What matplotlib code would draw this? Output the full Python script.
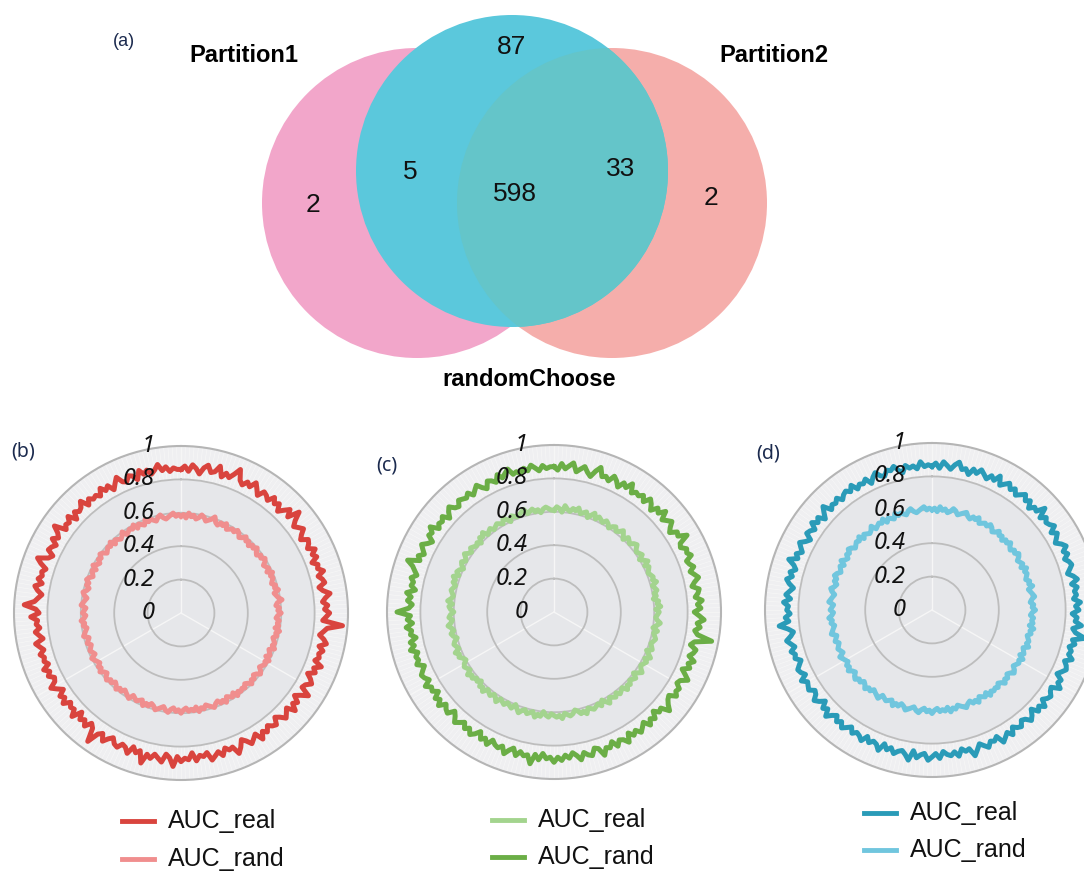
import numpy as np
import matplotlib
matplotlib.use("Agg")
import matplotlib.pyplot as plt
from matplotlib.patches import Circle
from matplotlib.lines import Line2D

# venn counts
venn_counts = {"p1_only": 2, "p1_rc": 5, "rc_only": 87, "all": 598, "rc_p2": 33, "p2_only": 2}
venn_names = ["Partition1", "Partition2", "randomChoose"]

# AUC per sample, in hundredths, going clockwise from the top
b_real = """
86 88 85 89 87 84 88 90 86 87 91 85 88 86 89 93 87 85 88 86 90 87 84 88
87 85 89 86 88 84 87 90 86 93 88 85 87 89 86 84 88 87 85 89 86 88 84 87
86 89 85 87 88 84 86 90 87 85 88 86 89 87 85 97 88 86 84 87 89 85 88 86
87 85 90 86 88 84 87 89 86 85 91 87 84 88 86 90 85 87 89 86 84 88 87 85
88 86 90 85 87 89 86 84 88 91 86 87 85 89 86 88 90 85 87 86 89 84 88 87
89 86 92 87 85 90 88 86 89 87 93 86 88 85 90 87 86 89 88 85 87 90 86 88
95 87 85 89 86 88 84 90 86 87 85 89 86 88 84 87 90 86 85 88 86 89 85 87
86 88 85 87 89 84 86 88 85 87 86 90 85 87 94 88 86 84 87 89 85 88 86 87
85 89 92 86 84 88 87 85 89 86 88 92 85 87 86 89 84 88 86 87 90 85 88 86
87 85 89 86 88 84 87 90 86 85 88 87 84 89 86 88 85 87 90 86 88 85 87 86
"""
b_rand = """
58 59 57 60 58 59 57 58 60 59 57 58 59 61 58 57 59 58 60 57 58 59 58 60
59 57 58 60 58 59 57 59 58 60 58 57 59 58 60 59 57 58 59 57 60 58 59 58
57 59 58 60 57 58 59 61 58 57 59 58 60 58 57 59 58 59 57 60 58 59 57 58
59 58 60 57 58 59 57 60 58 59 58 57 59 60 58 57 59 58 60 58 57 59 58 59
58 60 57 59 58 57 60 58 59 57 58 60 59 58 57 59 58 60 57 59 58 59 57 58
60 58 59 57 58 60 59 57 58 59 60 58 57 59 58 60 57 58 59 58 57 60 59 58
57 59 58 60 58 57 59 58 60 59 57 58 60 58 59 57 58 59 60 57 58 59 58 57
59 58 57 60 59 58 57 59 58 60 58 57 59 58 57 60 59 58 57 59 60 58 57 59
58 60 59 57 58 59 57 60 58 57 59 58 60 59 57 58 59 58 60 57 59 58 57 58
60 57 58 59 58 60 57 59 58 57 60 58 59 58 57 59 60 58 57 58 59 60 58 59
"""
c_real = """
61 63 62 60 64 62 61 63 62 64 61 62 63 60 62 64 61 63 62 61 63 62 60 62
63 61 62 64 62 60 63 62 61 63 64 62 61 62 63 60 62 64 61 63 62 61 62 63
62 64 61 62 63 61 62 60 63 62 64 61 63 62 61 62 64 62 60 63 61 62 63 62
61 62 63 60 62 64 61 63 62 61 62 64 62 60 63 62 61 63 62 64 61 62 63 61
63 62 61 64 62 60 63 61 62 63 62 61 64 62 63 61 60 62 63 62 61 64 62 63
62 61 63 62 60 63 62 64 61 62 63 61 62 64 62 60 63 62 61 63 62 61 64 62
61 63 62 61 64 62 63 60 62 61 63 62 64 61 62 63 62 60 61 63 62 64 61 62
63 62 60 62 63 61 62 64 62 61 63 62 60 62 63 61 64 62 61 62 63 62 61 63
62 64 61 63 62 60 62 63 61 62 64 62 61 63 62 61 62 60 63 62 64 61 62 63
61 62 63 62 61 64 62 60 63 62 61 62 63 64 61 62 63 61 62 60 62 63 62 61
"""
c_rand = """
87 85 89 86 88 90 85 87 89 86 84 88 91 86 87 85 89 87 84 88 86 90 85 87
86 88 85 89 87 84 88 86 90 85 87 89 86 84 88 87 92 86 85 88 87 89 85 86
88 85 87 89 86 84 88 87 85 89 86 88 84 87 90 86 88 85 87 96 86 84 88 87
85 89 86 88 84 87 90 86 85 88 87 89 85 86 88 91 86 87 84 88 86 89 85 87
89 86 88 85 90 87 86 89 85 88 87 91 86 85 89 88 86 90 87 85 88 86 89 87
90 87 88 85 89 86 92 87 88 86 89 85 87 90 86 88 87 85 89 86 88 84 87 89
86 88 85 87 89 86 84 88 87 85 89 86 88 84 87 86 89 85 87 88 86 84 88 86
87 85 89 86 88 84 87 86 89 85 88 86 94 87 85 88 86 89 84 87 86 88 85 87
89 93 86 88 85 87 89 86 84 88 87 90 85 87 86 88 84 87 89 86 85 88 87 86
88 85 87 89 86 84 88 87 85 89 86 88 90 86 87 85 88 86 89 87 85 88 86 87
"""
d_real = """
86 88 85 89 87 85 88 90 86 87 84 88 86 89 87 85 88 86 90 85 87 89 86 88
85 87 89 86 88 84 87 86 91 85 88 86 87 89 85 88 86 84 87 89 86 88 85 87
88 86 84 87 89 85 88 86 87 85 89 86 88 84 87 86 90 85 87 93 86 88 85 87
86 89 85 87 88 86 84 88 87 90 85 86 88 87 85 89 86 88 84 87 89 86 85 88
87 85 89 86 88 90 85 87 86 89 87 85 88 91 86 87 85 89 86 88 87 85 89 86
88 90 86 87 89 85 91 88 86 87 89 86 88 85 90 87 86 88 85 89 87 86 88 85
87 89 86 88 85 87 90 86 88 84 87 89 86 85 88 87 86 89 85 87 88 86 84 87
86 88 85 87 89 86 84 87 92 86 88 85 87 86 89 85 88 86 84 87 89 86 88 85
87 91 86 88 85 87 89 86 84 88 87 85 89 86 88 84 87 90 85 87 86 88 85 87
88 86 89 85 87 86 88 84 87 89 86 85 88 87 89 86 84 88 86 87 85 89 86 87
"""
d_rand = """
60 61 59 62 60 61 59 60 62 61 59 60 61 62 60 59 61 60 62 59 60 61 60 62
61 59 60 62 60 61 59 61 60 62 60 59 61 60 62 61 59 60 61 59 62 60 61 60
59 61 60 62 59 60 61 62 60 59 61 60 62 60 59 61 60 61 59 62 60 61 59 60
61 60 62 59 60 61 59 62 60 61 60 59 61 62 60 59 61 60 62 60 59 61 60 61
60 62 59 61 60 59 62 60 61 59 60 62 61 60 59 61 60 62 59 61 60 61 59 60
62 60 61 59 60 62 61 59 60 61 62 60 59 61 60 62 59 60 61 60 59 62 61 60
59 61 60 62 60 59 61 60 62 61 59 60 62 60 61 59 60 61 62 59 60 61 60 59
61 60 59 62 61 60 59 61 60 62 60 59 61 60 59 62 61 60 59 61 62 60 59 61
60 62 61 59 60 61 59 62 60 59 61 60 62 61 59 60 61 60 62 59 61 60 59 60
62 59 60 61 60 62 59 61 60 59 62 60 61 60 59 61 62 60 59 60 61 62 60 61
"""
r_ticks = [0, 0.2, 0.4, 0.6, 0.8, 1]
r_tick_labels = ["0", "0.2", "0.4", "0.6", "0.8", "1"]


def parse(s):
    return np.array(s.split(), dtype=float) / 100


W, H = 1084, 875
fig = plt.figure(figsize=(W / 100, H / 100), dpi=100)

# --- venn, drawn in pixel coordinates ---
ax = fig.add_axes([0, 0, 1, 1])
ax.set_xlim(0, W)
ax.set_ylim(H, 0)
ax.axis("off")

pink = Circle((417, 203), 155, color="#F2A6CA", lw=0)
salmon = Circle((612, 203), 155, color="#F5AEAB", lw=0)
blue = Circle((512, 171), 156, color="#5BC8DC", lw=0)
for p in (pink, salmon, blue):
    ax.add_patch(p)
overlap = Circle((612, 203), 155, color="#64C5C9", lw=0)
ax.add_patch(overlap)
overlap.set_clip_path(blue)

num_kw = dict(fontsize=19, family="Liberation Sans", ha="center", va="center", color="#111111")
ax.text(512, 47, str(venn_counts["rc_only"]), **num_kw)
ax.text(410, 172, str(venn_counts["p1_rc"]), **num_kw)
ax.text(515, 194, str(venn_counts["all"]), **num_kw)
ax.text(621, 169, str(venn_counts["rc_p2"]), **num_kw)
ax.text(313, 205, str(venn_counts["p1_only"]), **num_kw)
ax.text(711, 198, str(venn_counts["p2_only"]), **num_kw)

name_kw = dict(fontsize=17, family="Liberation Sans", weight="bold", ha="center", va="center")
ax.text(244, 56, venn_names[0], **name_kw)
ax.text(774, 56, venn_names[1], **name_kw)
ax.text(529, 379, venn_names[2], **name_kw)

ax.text(124, 41, "(a)", fontsize=13, family="Liberation Sans", color="#1B2A4E", ha="center", va="center")

# --- radar panels ---
panels = [
    dict(tag="(b)", tag_xy=(23, 452), center=(181, 613), series=[("AUC_real", b_real, "#D9443E"), ("AUC_rand", b_rand, "#F08E8E")],
         leg_x=122, leg_y=(821, 859)),
    dict(tag="(c)", tag_xy=(387, 466), center=(554, 612), series=[("AUC_real", c_real, "#A3D48E"), ("AUC_rand", c_rand, "#6BAE46")],
         leg_x=492, leg_y=(820, 857)),
    dict(tag="(d)", tag_xy=(768, 454), center=(932, 610), series=[("AUC_real", d_real, "#2A9BB8"), ("AUC_rand", d_rand, "#70C6DE")],
         leg_x=864, leg_y=(813, 850)),
]
R = 167

for pn in panels:
    cx, cy = pn["center"]
    rect = [(cx - R) / W, (H - cy - R) / H, 2 * R / W, 2 * R / H]
    pax = fig.add_axes(rect, projection="polar")
    pax.set_theta_offset(np.pi / 2)
    pax.set_theta_direction(-1)
    pax.set_ylim(0, 1)
    pax.set_facecolor("#E6E7EA")
    pax.spines["polar"].set_color("#B5B5B5")
    pax.spines["polar"].set_linewidth(1.5)

    full = np.linspace(0, 2 * np.pi, 400)
    pax.fill_between(full, 0.8, 1.0, color="#EFEFF1", lw=0, zorder=0)
    n = len(parse(pn["series"][0][1]))
    spokes = np.linspace(0, 2 * np.pi, n, endpoint=False)
    pax.vlines(spokes, 0.8, 1.0, color="#F8F8F8", lw=0.4, zorder=0)

    pax.set_yticks(r_ticks[1:-1])
    pax.set_yticklabels([])
    pax.set_xticks(np.deg2rad([0, 120, 240]))
    pax.set_xticklabels([])
    pax.yaxis.grid(True, color="#BDBDBD", lw=1.3)
    pax.xaxis.grid(True, color="#F6F6F6", lw=1.0)

    for name, s, col in pn["series"]:
        vals = parse(s)
        th = np.linspace(0, 2 * np.pi, len(vals), endpoint=False)
        pax.plot(np.append(th, th[0]), np.append(vals, vals[0]), color=col, lw=3.6,
                 solid_joinstyle="round", zorder=3)

    for rv, lab in zip(r_ticks, r_tick_labels):
        pax.annotate(lab, xy=(0, rv), xytext=(-19, 0), textcoords="offset points",
                     ha="right", va="center", fontsize=17, style="italic",
                     family="Noto Sans", color="#111111", zorder=5, annotation_clip=False)

    ax.text(pn["tag_xy"][0], pn["tag_xy"][1], pn["tag"], fontsize=14, family="Noto Sans",
            color="#1B2A4E", ha="center", va="center")

    x0 = pn["leg_x"]
    for (name, s, col), ly in zip(pn["series"], pn["leg_y"]):
        ax.add_line(Line2D([x0, x0 + 32], [ly, ly], color=col, lw=3.5))
        ax.text(x0 + 46, ly, name, fontsize=18, family="Liberation Sans", ha="left", va="center", color="#111111")

fig.savefig("out.png", dpi=100)
